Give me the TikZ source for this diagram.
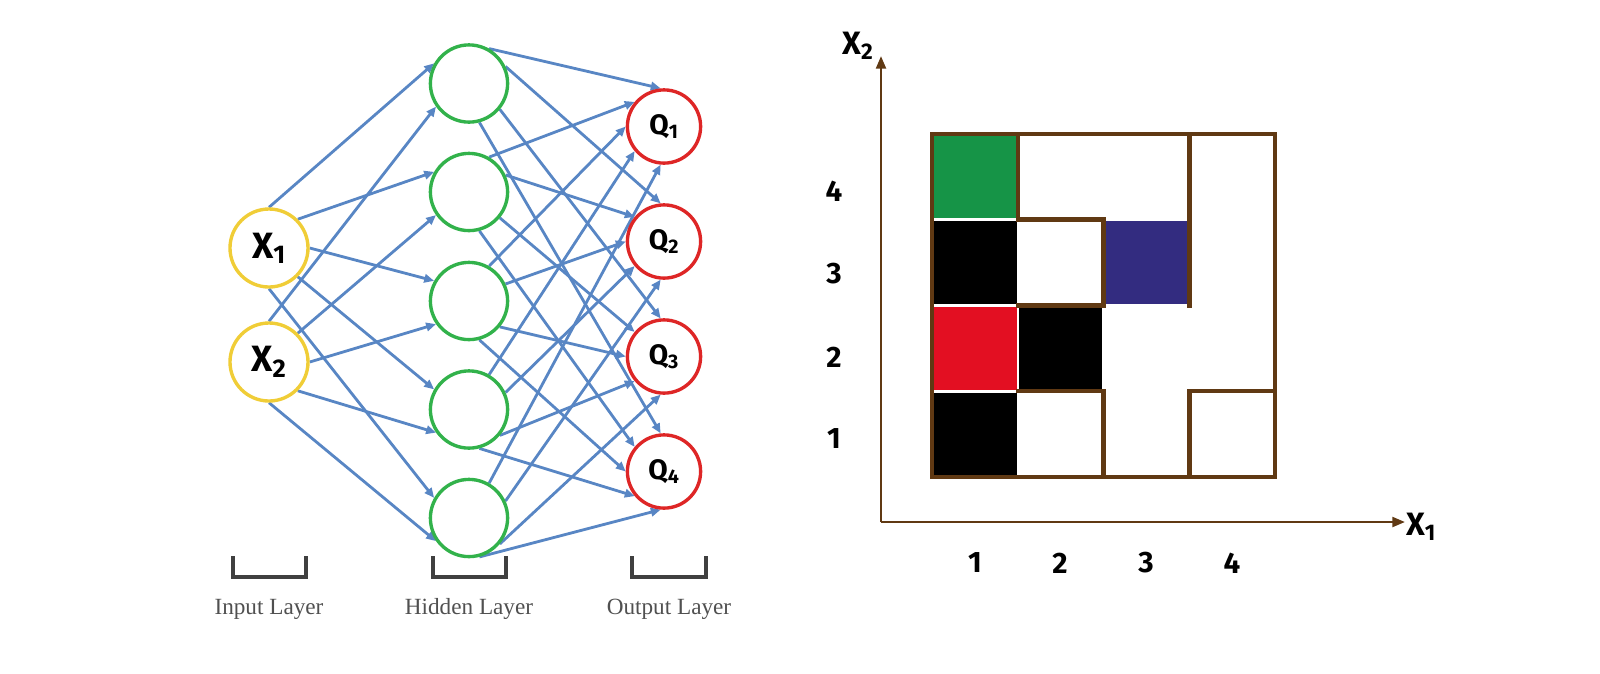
\documentclass[tikz,border=0pt]{standalone}
\usepackage{fontspec}
\setmainfont{Liberation Serif}
\newfontfamily\labelfont{Fira Sans}
\usetikzlibrary{positioning,arrows.meta,backgrounds}

\definecolor{inyellow}{RGB}{240,205,55}
\definecolor{hidgreen}{RGB}{50,178,75}
\definecolor{outred}{RGB}{222,38,38}
\definecolor{linkblue}{RGB}{88,134,196}
\definecolor{wallbrown}{RGB}{96,57,19}
\definecolor{goalgreen}{RGB}{22,148,71}
\definecolor{startred}{RGB}{227,15,34}
\definecolor{agentblue}{RGB}{51,44,128}
\definecolor{captgray}{RGB}{80,80,80}
\definecolor{bracketgray}{RGB}{64,64,64}

\tikzset{
  neuron/.style={circle, fill=white, line width=2.4pt, inner sep=0pt},
  inneuron/.style={neuron, draw=inyellow, minimum size=1.95cm,
    font=\labelfont\bfseries\fontsize{26}{26}\selectfont},
  hidneuron/.style={neuron, draw=hidgreen, minimum size=1.93cm},
  outneuron/.style={neuron, draw=outred, minimum size=1.83cm,
    font=\labelfont\bfseries\fontsize{20}{20}\selectfont},
  link/.style={draw=linkblue, line width=2pt, -{Triangle[length=7pt,width=6pt]}},
  bracket/.style={draw=bracketgray, line width=2.2pt},
  caption/.style={text=captgray, font=\fontsize{16.5}{16.5}\selectfont},
  axis/.style={draw=wallbrown, line width=1.8pt, -{Triangle[length=9pt,width=7pt]}},
  wall/.style={draw=wallbrown, line width=3.2pt, line cap=rect},
  ticklabel/.style={font=\labelfont\bfseries\fontsize{21}{21}\selectfont},
  axislabel/.style={font=\labelfont\bfseries\fontsize{23}{23}\selectfont}
}

\begin{document}
\begin{tikzpicture}[x=0.025cm, y=-0.025cm]
  \useasboundingbox (0,0) rectangle (1600,673);

  % Input layer
  \node[inneuron] (x1) at (269,248) {X\textsubscript{1}};
  \node[inneuron] (x2) at (269,362) {X\textsubscript{2}};

  % Hidden layer
  \foreach \y [count=\j] in {83.5,192,301,409.5,518}
    \node[hidneuron] (h\j) at (469,\y) {};

  % Output layer
  \foreach \y [count=\k] in {126.5,241.5,356.5,471.5}
    \node[outneuron] (q\k) at (664,\y) {Q\textsubscript{\k}};

  % Connections (behind the neurons)
  \begin{scope}[on background layer]
    \foreach \i/\b in {1/150,2/215}
      \foreach \j/\a in {1/90,2/45,3/0,4/-45,5/-90}
        \draw[link] (x\i.\a) -- (h\j.\b);
    \foreach \j/\b in {1/95,2/140,3/180,4/220,5/265}
      \foreach \k/\a in {1/60,2/25,3/-40,4/-75}
        \draw[link] (h\j.\a) -- (q\k.\b);
  \end{scope}

  % Layer brackets and captions
  \draw[bracket] (233,556) -- (233,577) -- (306,577) -- (306,556);
  \draw[bracket] (433,556) -- (433,577) -- (506,577) -- (506,556);
  \draw[bracket] (632,556) -- (632,577) -- (706,577) -- (706,556);
  \node[caption] (inlab) at (269,609) {Input Layer};
  \node[caption] (hidlab) at (469,609) {Hidden Layer};
  \node[caption] (outlab) at (669,609) {Output Layer};

  % Axes
  \coordinate (origin) at (881,522);
  \coordinate (ytip) at (881,56);
  \coordinate (xtip) at (1405,522);
  \draw[axis] (origin) -- (ytip);
  \draw[axis] (origin) -- (xtip);
  \node[axislabel] (ylab) at (858,46) {X\textsubscript{2}};
  \node[axislabel] (xlab) at (1421,527) {X\textsubscript{1}};

  % Tick labels
  \foreach \x [count=\c] in {975,1060,1146,1232}
    \node[ticklabel] (col\c) at (\x,563) {\c};
  \foreach \y [count=\r] in {439,357,274,191}
    \node[ticklabel] (row\r) at (834,\y) {\r};

  % Grid world
  \begin{scope}[shift={(932,477)}, x=2.144cm, y=2.144cm]
    % coloured cells
    \fill[black] (0.015,0.015) rectangle (0.985,0.985);
    \fill[startred] (0.015,1.015) rectangle (0.985,1.985);
    \fill[black] (1.015,1.015) rectangle (1.985,1.985);
    \fill[black] (0.015,2.015) rectangle (0.985,2.985);
    \fill[agentblue] (2.015,2.015) rectangle (2.985,2.985);
    \fill[goalgreen] (0.015,3.015) rectangle (0.985,3.985);

    % walls
    \draw[wall] (0,0) rectangle (4,4);
    \draw[wall] (1,4) -- (1,3);
    \draw[wall] (1,3) -- (2,3) -- (2,2) -- (1,2);
    \draw[wall] (3,4) -- (3,2);
    \draw[wall] (1,1) -- (2,1) -- (2,0);
    \draw[wall] (3,0) -- (3,1) -- (4,1);
  \end{scope}

\end{tikzpicture}
\end{document}
